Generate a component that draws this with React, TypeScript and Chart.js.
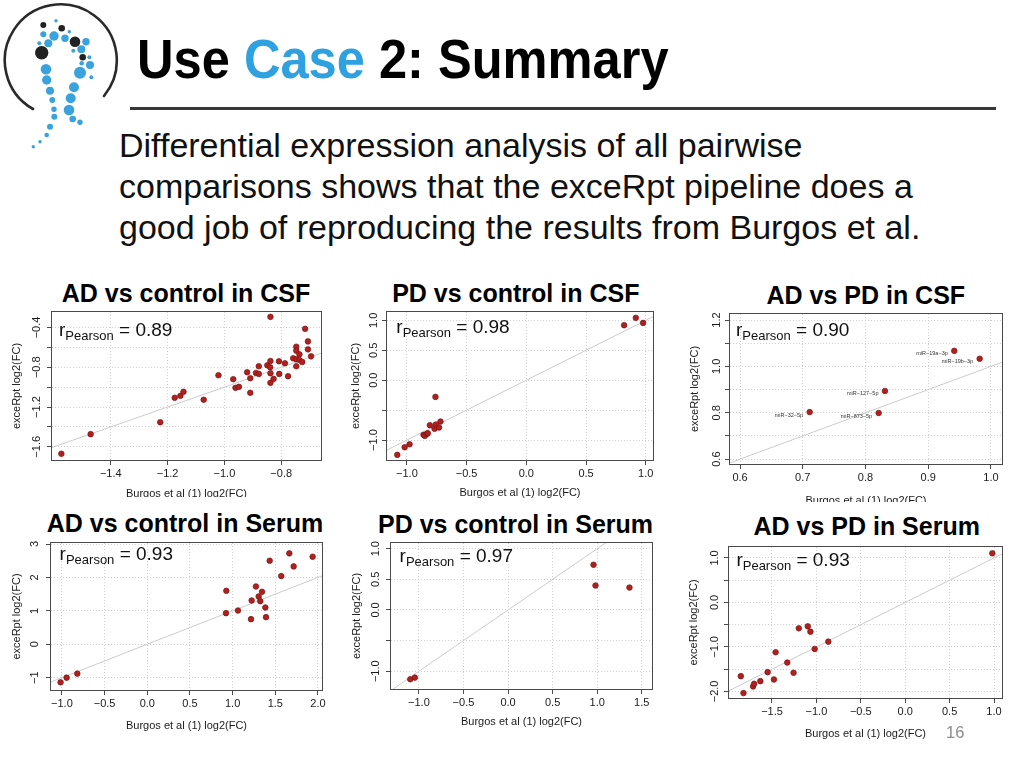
import React, { useEffect, useRef } from "react";
import { Chart, registerables } from "chart.js";

Chart.register(...registerables);

const FONT = "'Liberation Sans', Arial, Helvetica, sans-serif";

// ---------- Data: AD vs control in CSF ----------
const adCsfX = [-1.574, -1.471, -1.226, -1.175, -1.155, -1.144, -1.073, -1.021, -0.969, -0.961, -0.949, -0.92, -0.909, -0.909, -0.889, -0.879, -0.879, -0.849, -0.839, -0.838, -0.838, -0.838, -0.838, -0.827, -0.808, -0.807, -0.787, -0.776, -0.758, -0.747, -0.747, -0.747, -0.747, -0.736, -0.736, -0.726, -0.716, -0.706, -0.706, -0.695];
const adCsfY = [-1.67, -1.473, -1.353, -1.107, -1.087, -1.047, -1.127, -0.88, -0.92, -1.007, -0.997, -0.85, -0.91, -1.057, -0.857, -0.867, -0.79, -0.78, -0.8, -0.737, -0.86, -0.293, -0.957, -0.917, -0.74, -0.867, -0.76, -0.89, -0.71, -0.593, -0.633, -0.72, -0.79, -0.67, -0.727, -0.747, -0.413, -0.54, -0.62, -0.69];
const adCsfXTicks = [-1.4, -1.2, -1.0, -0.8];
const adCsfXLabels = ["−1.4", "−1.2", "−1.0", "−0.8"];
const adCsfYTicks = [-1.6, -1.4, -1.2, -1.0, -0.8, -0.6, -0.4];
const adCsfYLabels = ["−1.6", "", "−1.2", "", "−0.8", "", "−0.4"];
const adCsfRange = [-1.607, -0.66, -1.733, -0.244];

// ---------- Data: PD vs control in CSF ----------
const pdCsfX = [-1.081, -1.019, -0.978, -0.861, -0.85, -0.833, -0.825, -0.808, -0.769, -0.758, -0.761, -0.731, -0.719, 0.819, 0.917, 0.978];
const pdCsfY = [-1.248, -1.12, -1.07, -0.914, -0.93, -0.897, -0.886, -0.752, -0.813, -0.741, -0.279, -0.791, -0.691, 0.919, 1.042, 0.958];
const pdCsfXTicks = [-1.0, -0.5, 0.0, 0.5, 1.0];
const pdCsfXLabels = ["−1.0", "−0.5", "0.0", "0.5", "1.0"];
const pdCsfYTicks = [-1.0, -0.5, 0.0, 0.5, 1.0];
const pdCsfYLabels = ["−1.0", "", "0.0", "0.5", "1.0"];
const pdCsfRange = [-1.167, 1.061, -1.334, 1.14];

// ---------- Data: AD vs PD in CSF ----------
const adPdCsfNames = ["miR−32−5p", "miR−873−5p", "miR−127−5p", "miR−19a−3p", "miR−19b−3p"];
const adPdCsfX = [0.711, 0.821, 0.831, 0.9415, 0.982];
const adPdCsfY = [0.803, 0.799, 0.894, 1.067, 1.033];
const adPdCsfXTicks = [0.6, 0.7, 0.8, 0.9, 1.0];
const adPdCsfXLabels = ["0.6", "0.7", "0.8", "0.9", "1.0"];
const adPdCsfYTicks = [0.6, 0.7, 0.8, 0.9, 1.0, 1.1, 1.2];
const adPdCsfYLabels = ["0.6", "", "0.8", "", "1.0", "", "1.2"];
const adPdCsfRange = [0.584, 1.0176, 0.579, 1.226];

// ---------- Data: AD vs control in Serum ----------
const adSerX = [-1.016, -0.945, -0.82, 0.922, 0.926, 1.0625, 1.215, 1.223, 1.273, 1.305, 1.324, 1.344, 1.383, 1.391, 1.434, 1.57, 1.664, 1.715, 1.9375];
const adSerY = [-1.14, -1.0, -0.88, 0.93, 1.6, 1.01, 0.75, 1.31, 1.73, 1.43, 1.29, 1.57, 1.1, 0.81, 2.5, 2.04, 2.72, 2.33, 2.62];
const adSerXTicks = [-1.0, -0.5, 0.0, 0.5, 1.0, 1.5, 2.0];
const adSerXLabels = ["−1.0", "−0.5", "0.0", "0.5", "1.0", "1.5", "2.0"];
const adSerYTicks = [-1, 0, 1, 2, 3];
const adSerYLabels = ["−1", "0", "1", "2", "3"];
const adSerRange = [-1.128, 2.047, -1.37, 3.03];

// ---------- Data: PD vs control in Serum ----------
const pdSerX = [-1.097, -1.045, 0.959, 0.981, 1.362];
const pdSerY = [-1.131, -1.104, 0.738, 0.399, 0.366];
const pdSerXTicks = [-1.0, -0.5, 0.0, 0.5, 1.0, 1.5];
const pdSerXLabels = ["−1.0", "−0.5", "0.0", "0.5", "1.0", "1.5"];
const pdSerYTicks = [-1.0, -0.5, 0.0, 0.5, 1.0];
const pdSerYLabels = ["−1.0", "", "0.0", "0.5", "1.0"];
const pdSerRange = [-1.313, 1.615, -1.29, 1.093];

// ---------- Data: AD vs PD in Serum ----------
const adPdSerX = [-1.851, -1.821, -1.713, -1.701, -1.631, -1.549, -1.478, -1.459, -1.328, -1.257, -1.198, -1.097, -1.067, -1.019, -0.866, 0.981];
const adPdSerY = [-1.657, -2.037, -1.888, -1.828, -1.769, -1.567, -1.731, -1.119, -1.351, -1.582, -0.582, -0.537, -0.657, -1.045, -0.881, 1.104];
const adPdSerXTicks = [-1.5, -1.0, -0.5, 0.0, 0.5, 1.0];
const adPdSerXLabels = ["−1.5", "−1.0", "−0.5", "0.0", "0.5", "1.0"];
const adPdSerYTicks = [-2.0, -1.5, -1.0, -0.5, 0.0, 0.5, 1.0];
const adPdSerYLabels = ["−2.0", "", "−1.0", "", "0.0", "", "1.0"];
const adPdSerRange = [-1.984, 1.09, -2.148, 1.246];

const titles = ["AD vs control in CSF", "PD vs control in CSF", "AD vs PD in CSF", "AD vs control in Serum", "PD vs control in Serum", "AD vs PD in Serum"];
const rPearson = ["0.89", "0.98", "0.90", "0.93", "0.97", "0.93"];

const X_TITLE = "Burgos et al (1) log2(FC)";
const Y_TITLE = "exceRpt log2(FC)";

// ---------- Layout (positions only) ----------
// plot boxes: left, top, right, bottom
const boxes = [
  [52, 312, 321, 460],
  [387, 312, 653, 460],
  [730, 314, 1002, 464],
  [51, 543, 322, 690],
  [391, 543, 652, 689],
  [729, 547, 1002, 698],
];
const clipBottoms = [497, 520, 502, 768, 768, 768];
const yTitleOffs = [35, 31, 34.7, 33.7, 34.4, 35];
const xTitleOffs = [34, 33, 37, 35.7, 33, 35.7];
const yLabOffs = [15, 13, 13.3, 16, 15.4, 14];
const rDx = [7, 9.3, 6, 8.6, 8.6, 7.4];
const rDy = [24, 21, 22, 17, 19.4, 19.3];
const titleCenters = [[186, 301.7], [515.8, 301.7], [865.8, 304], [185, 531.7], [515.5, 532.7], [866.7, 535]];

const PAD_L = 4;
const PAD_R = 16;
const PAD_T = 12;
const Y_AXIS_W = 46;
const X_AXIS_H = 46;
const TICK_LEN = 5;

type Spec = {
  xs: number[];
  ys: number[];
  xTicks: number[];
  xLabels: string[];
  yTicks: number[];
  yLabels: string[];
  range: number[];
  names?: string[];
};

const specs: Spec[] = [
  { xs: adCsfX, ys: adCsfY, xTicks: adCsfXTicks, xLabels: adCsfXLabels, yTicks: adCsfYTicks, yLabels: adCsfYLabels, range: adCsfRange },
  { xs: pdCsfX, ys: pdCsfY, xTicks: pdCsfXTicks, xLabels: pdCsfXLabels, yTicks: pdCsfYTicks, yLabels: pdCsfYLabels, range: pdCsfRange },
  { xs: adPdCsfX, ys: adPdCsfY, xTicks: adPdCsfXTicks, xLabels: adPdCsfXLabels, yTicks: adPdCsfYTicks, yLabels: adPdCsfYLabels, range: adPdCsfRange, names: adPdCsfNames },
  { xs: adSerX, ys: adSerY, xTicks: adSerXTicks, xLabels: adSerXLabels, yTicks: adSerYTicks, yLabels: adSerYLabels, range: adSerRange },
  { xs: pdSerX, ys: pdSerY, xTicks: pdSerXTicks, xLabels: pdSerXLabels, yTicks: pdSerYTicks, yLabels: pdSerYLabels, range: pdSerRange },
  { xs: adPdSerX, ys: adPdSerY, xTicks: adPdSerXTicks, xLabels: adPdSerXLabels, yTicks: adPdSerYTicks, yLabels: adPdSerYLabels, range: adPdSerRange },
];

function Panel({ idx }: { idx: number }) {
  const ref = useRef<HTMLCanvasElement>(null);
  const spec = specs[idx];
  const [bl, bt, br, bb] = boxes[idx];
  const cw = br - bl + Y_AXIS_W + PAD_L + PAD_R;
  const ch = bb - bt + PAD_T + X_AXIS_H;
  const cl = bl - Y_AXIS_W - PAD_L;
  const ct = bt - PAD_T;

  useEffect(() => {
    const canvas = ref.current!;
    const meas = document.createElement("canvas").getContext("2d")!;
    meas.font = `normal 11px ${FONT}`;
    const widest = Math.max(...spec.yLabels.map((l) => meas.measureText(l).width));
    const yTickPad = yLabOffs[idx] - TICK_LEN - widest / 2;
    const [xMin, xMax, yMin, yMax] = spec.range;

    const boxPlugin = {
      id: "boxAndText" + idx,
      afterDraw(chart: any) {
        const { ctx, chartArea } = chart;
        const { left, top, right, bottom } = chartArea;
        ctx.save();
        // plot frame
        ctx.strokeStyle = "#4a4a4a";
        ctx.lineWidth = 1;
        ctx.strokeRect(Math.round(left) - 0.5, Math.round(top) - 0.5, Math.round(right - left) + 1, Math.round(bottom - top) + 1);
        // r Pearson annotation
        ctx.fillStyle = "#111";
        ctx.textBaseline = "alphabetic";
        ctx.textAlign = "left";
        let x = left + rDx[idx];
        const y = top + rDy[idx];
        ctx.font = `19px ${FONT}`;
        ctx.fillText("r", x, y);
        x += ctx.measureText("r").width;
        ctx.font = `13px ${FONT}`;
        ctx.fillText("Pearson", x, y + 4);
        x += ctx.measureText("Pearson").width;
        ctx.font = `19px ${FONT}`;
        ctx.fillText(" = " + rPearson[idx], x, y);
        // point names
        if (spec.names) {
          const xs = chart.scales.x;
          const ys = chart.scales.y;
          ctx.font = `5.5px ${FONT}`;
          ctx.fillStyle = "#333";
          ctx.textAlign = "right";
          ctx.textBaseline = "middle";
          spec.names.forEach((n, i) => {
            const px = xs.getPixelForValue(spec.xs[i]);
            const py = ys.getPixelForValue(spec.ys[i]);
            ctx.fillText(n, px - 6.5, py + 3);
          });
        }
        ctx.restore();
      },
    };

    const tickFont = { size: 11, family: FONT, lineHeight: 1.2 };
    const chart = new Chart(canvas, {
      type: "scatter",
      data: {
        datasets: [
          {
            type: "scatter",
            data: spec.xs.map((v, i) => ({ x: v, y: spec.ys[i] })),
            pointRadius: 2.8,
            pointBackgroundColor: "#B0201F",
            pointBorderColor: "#7E1414",
            pointBorderWidth: 0.7,
          },
          {
            type: "line",
            data: [
              { x: xMin, y: xMin },
              { x: xMax, y: xMax },
            ],
            borderColor: "#CCCCCC",
            borderWidth: 1,
            pointRadius: 0,
            fill: false,
          },
        ],
      } as any,
      options: {
        responsive: false,
        animation: false,
        events: [],
        layout: { padding: { left: PAD_L, right: PAD_R, top: PAD_T, bottom: 0 } },
        plugins: { legend: { display: false }, tooltip: { enabled: false }, title: { display: false } },
        scales: {
          x: {
            type: "linear",
            position: "bottom",
            min: xMin,
            max: xMax,
            bounds: "data",
            afterBuildTicks: (s: any) => {
              s.ticks = spec.xTicks.map((v) => ({ value: v }));
            },
            afterFit: (s: any) => {
              s.height = X_AXIS_H;
            },
            ticks: {
              autoSkip: false,
              minRotation: 0,
              maxRotation: 0,
              padding: 2.4,
              font: tickFont,
              color: "#1a1a1a",
              callback: (_v: any, i: number) => spec.xLabels[i],
            },
            grid: { color: "#CFCFCF", lineWidth: 1, drawTicks: true, tickLength: TICK_LEN, tickColor: "#4a4a4a", tickWidth: 1 },
            border: { display: false, dash: [1, 2] },
            title: {
              display: true,
              text: X_TITLE,
              color: "#1a1a1a",
              font: tickFont,
              padding: { top: 0, bottom: X_AXIS_H - xTitleOffs[idx] - 6.6 },
            },
          },
          y: {
            type: "linear",
            position: "left",
            min: yMin,
            max: yMax,
            bounds: "data",
            afterBuildTicks: (s: any) => {
              s.ticks = spec.yTicks.map((v) => ({ value: v }));
            },
            afterFit: (s: any) => {
              s.width = Y_AXIS_W;
            },
            ticks: {
              autoSkip: false,
              minRotation: 90,
              maxRotation: 90,
              crossAlign: "center",
              padding: yTickPad,
              font: tickFont,
              color: "#1a1a1a",
              callback: (_v: any, i: number) => spec.yLabels[i],
            },
            grid: { color: "#CFCFCF", lineWidth: 1, drawTicks: true, tickLength: TICK_LEN, tickColor: "#4a4a4a", tickWidth: 1 },
            border: { display: false, dash: [1, 2] },
            title: {
              display: true,
              text: Y_TITLE,
              color: "#1a1a1a",
              font: tickFont,
              padding: { top: Y_AXIS_W - yTitleOffs[idx] - 6.6, bottom: 0 },
            },
          },
        },
      } as any,
      plugins: [boxPlugin],
    });
    return () => chart.destroy();
  }, []);

  return (
    <div style={{ position: "absolute", left: cl, top: ct, width: cw, height: Math.min(ch, clipBottoms[idx] - ct), overflow: "hidden" }}>
      <canvas ref={ref} width={cw} height={ch} style={{ width: cw, height: ch, display: "block" }} />
    </div>
  );
}

// ---------- Logo (decoration) ----------
const logoBlack = [[43.3, 25, 3], [61.7, 28.3, 3.3], [75, 41.7, 5.3], [41.7, 52.7, 6.7], [82.7, 57.3, 3.3]];
const logoBlue = [
  [56, 20.7, 1.7], [43.3, 34.3, 3], [54, 36, 4.7], [65, 38.3, 3.7], [69.3, 31.7, 1.7], [86, 41.7, 3.7],
  [39.3, 43.3, 2], [48.3, 43.3, 4], [81.3, 49.3, 4], [73.3, 50.7, 2], [89.3, 57.3, 2], [81.7, 63.3, 2.3],
  [90, 65, 4], [46, 69.3, 5.3], [80, 72.7, 6], [91.3, 77.3, 2], [46.7, 80, 4.7], [74, 87.3, 5],
  [50, 90.7, 4], [70.7, 98.3, 5], [52.3, 100, 3], [69, 110, 5.3], [54, 109.3, 2.7], [54.3, 116.7, 3],
  [72.7, 119, 3.3], [80, 122.3, 2.7], [50, 126.7, 3], [46.7, 135, 2.3], [40, 141.7, 1.7], [33.3, 146.7, 1.7],
];

function Logo() {
  return (
    <svg width={130} height={160} style={{ position: "absolute", left: 0, top: 0 }}>
      <path d="M 33 109 A 56 56 0 1 1 104 96" fill="none" stroke="#2a2a2a" strokeWidth={2.6} strokeLinecap="round" />
      {logoBlue.map(([x, y, r], i) => (
        <circle key={"b" + i} cx={x} cy={y} r={r} fill="#3AA3DD" />
      ))}
      {logoBlack.map(([x, y, r], i) => (
        <circle key={"k" + i} cx={x} cy={y} r={r} fill="#222" />
      ))}
    </svg>
  );
}

export default function App() {
  return (
    <div style={{ position: "absolute", left: 0, top: 0, width: 1024, height: 768, background: "#fff", overflow: "hidden", fontFamily: FONT }}>
      <Logo />
      <div
        style={{
          position: "absolute",
          left: 137,
          top: 31.7,
          fontSize: 55,
          lineHeight: "55px",
          fontWeight: "bold",
          whiteSpace: "nowrap",
          transform: "scaleX(0.92)",
          transformOrigin: "0 0",
          color: "#000",
        }}
      >
        Use <span style={{ color: "#2FA0E0" }}>Case</span> 2: Summary
      </div>
      <div style={{ position: "absolute", left: 130, top: 107, width: 866, height: 3, background: "#383838" }} />
      <div style={{ position: "absolute", left: 119, top: 125.4, fontSize: 34, lineHeight: "41px", whiteSpace: "nowrap", color: "#111" }}>
        Differential expression analysis of all pairwise
        <br />
        comparisons shows that the exceRpt pipeline does a
        <br />
        good job of reproducing the results from Burgos et al.
      </div>
      {titles.map((t, i) => (
        <div
          key={t}
          style={{
            position: "absolute",
            left: titleCenters[i][0] - 180,
            top: titleCenters[i][1] - 21.2,
            width: 360,
            textAlign: "center",
            fontSize: 25,
            lineHeight: "25px",
            fontWeight: "bold",
            whiteSpace: "nowrap",
            color: "#000",
          }}
        >
          {t}
        </div>
      ))}
      {specs.map((_, i) => (
        <Panel key={i} idx={i} />
      ))}
      <div style={{ position: "absolute", left: 946, top: 724, fontSize: 16.5, lineHeight: "17px", color: "#8C8C8C" }}>16</div>
    </div>
  );
}
